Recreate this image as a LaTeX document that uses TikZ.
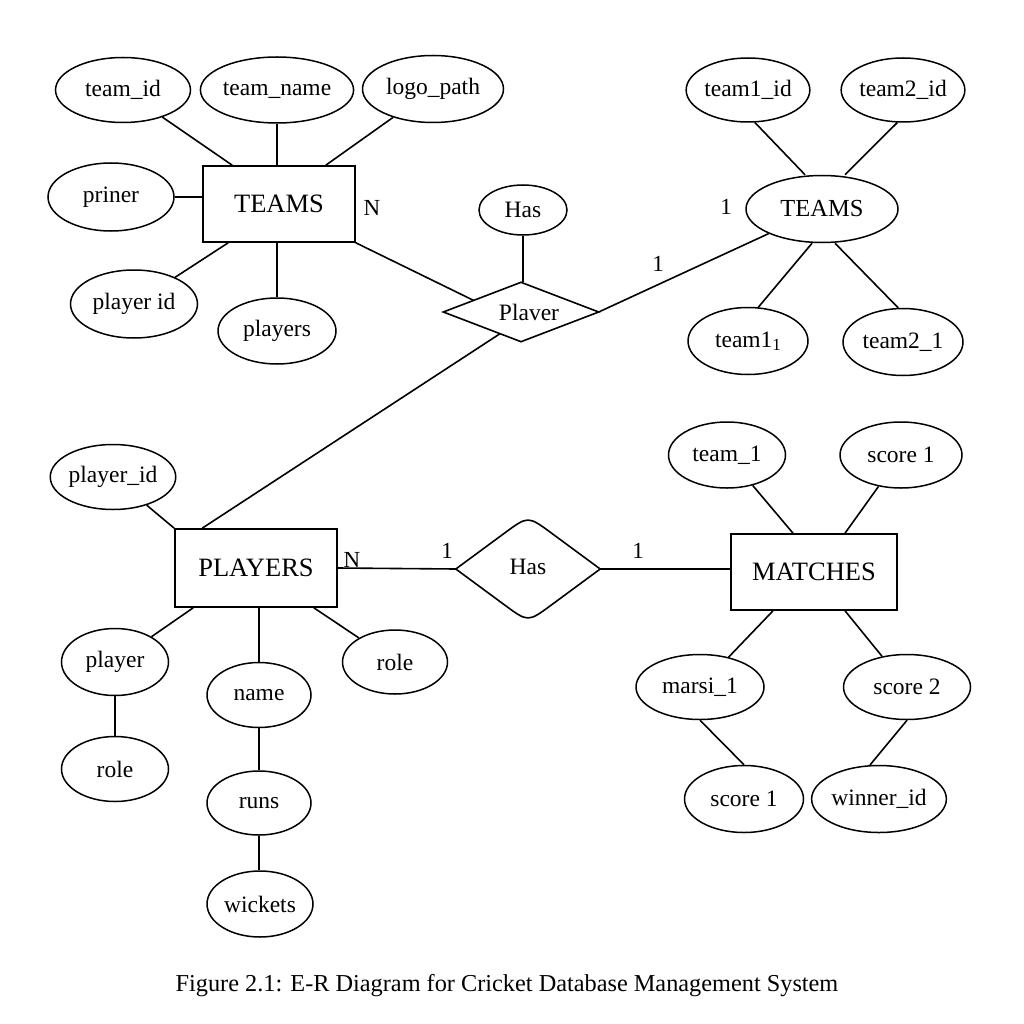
\documentclass[tikz,border=0pt]{standalone}
\usepackage{fontspec}
\setmainfont{Liberation Serif}
\usetikzlibrary{shapes.geometric,calc}
\tikzset{
  attr/.style={ellipse, draw, line width=1.5pt, inner sep=0pt, font=\fontsize{23.5}{28}\selectfont},
  ent/.style={rectangle, draw, line width=1.6pt, inner sep=0pt, font=\fontsize{26.5}{31}\selectfont},
  card/.style={inner sep=0pt, font=\fontsize{23}{27}\selectfont},
  conn/.style={line width=1.6pt}
}
\begin{document}
\begin{tikzpicture}[x=1pt,y=-1pt]
\useasboundingbox (0,0) rectangle (1024,1024);
\fill[white] (0,0) rectangle (1024,1024);
% ---- top-left TEAMS entity
\node[ent, minimum width=152pt, minimum height=76pt] (teamsA) at (279,204) {TEAMS};
\node[attr, minimum width=135pt, minimum height=65pt] (tid) at (123,90) {team\_id};
\node[attr, minimum width=142pt, minimum height=66pt] (tname) at (277,90) {team\_name};
\node[attr, minimum width=141pt, minimum height=67pt] (logo) at (433,89) {logo\_path};
\node[attr, minimum width=126pt, minimum height=68pt] (priner) at (111,197) {priner};
\node[attr, minimum width=127pt, minimum height=68pt] (pid1) at (134,304) {player id};
\node[attr, minimum width=118pt, minimum height=66pt] (players) at (277,331) {players};
\draw[conn] (tid) -- ([xshift=30pt]teamsA.north west);
\draw[conn] (tname.south) -- (tname.south |- teamsA.north);
\draw[conn] (logo) -- ([xshift=-30pt]teamsA.north east);
\draw[conn] (priner) -- (priner -| teamsA.west);
\draw[conn] (pid1) -- ([xshift=26pt]teamsA.south west);
\draw[conn] (players.north) -- (players.north |- teamsA.south);
% ---- Plaver relationship (diamond outline drawn through the node's side anchors)
\node[rectangle, draw=none, inner sep=0pt, minimum width=155pt, minimum height=59pt,
      font=\fontsize{23.5}{28}\selectfont] (plaver) at (521,312) {\hspace*{16pt}Plaver};
\draw[conn, line join=miter]
  (plaver.west) -- (plaver.north) -- (plaver.east) -- (plaver.south) -- cycle;
\node[attr, minimum width=88pt, minimum height=50pt] (hasA) at (523,210) {Has};
\draw[conn] (hasA.south) -- (hasA.south |- plaver.north);
\draw[conn] (teamsA.south east) -- ($(plaver.west)!0.39!(plaver.north)$);
\node[card] (nA) at (372,208) {N};
% ---- right TEAMS ellipse
\node[attr, minimum width=152pt, minimum height=67pt, font=\fontsize{24.5}{29}\selectfont] (teamsB) at (822,209) {TEAMS};
\node[attr, minimum width=120pt, minimum height=64pt] (t1id) at (748,90) {team1\_id};
\node[attr, minimum width=120pt, minimum height=64pt] (t2id) at (903,90) {team2\_id};
\node[attr, minimum width=120pt, minimum height=67pt] (t11) at (748,341) {team1{\fontsize{17}{17}\selectfont\raisebox{-3pt}{1}}};
\node[attr, minimum width=120pt, minimum height=67pt] (t21) at (903,342) {team2\_1};
\draw[conn] (plaver.east) -- (teamsB);
\draw[conn] (t1id.-78) -- ([xshift=-17pt]teamsB.north);
\draw[conn] (t2id.-100) -- ([xshift=23pt]teamsB.north);
\draw[conn] ([xshift=-10pt]teamsB.south) -- (t11.73);
\draw[conn] ([xshift=13pt]teamsB.south) -- (t21.98);
\node[card] (c1a) at (658,264) {1};
\node[card] (c1b) at (726,207) {1};
% ---- PLAYERS entity
\node[ent, minimum width=162pt, minimum height=78pt] (playersE) at (256,568) {PLAYERS};
\node[attr, minimum width=116pt, minimum height=65pt] (pid2) at (113,477) {player\_id};
\draw[conn] (pid2) -- (playersE.north west);
\draw[conn] ($(plaver.west)!0.73!(plaver.south)$) -- ([xshift=28pt]playersE.north west);
\node[attr, minimum width=107pt, minimum height=67pt] (plr) at (115,662) {player};
\node[attr, minimum width=107pt, minimum height=65pt] (roleL) at (115,769) {role};
\node[attr, minimum width=104pt, minimum height=65pt] (nameA) at (259,695) {name};
\node[attr, minimum width=105pt, minimum height=64pt] (roleR) at (395,662) {role};
\node[attr, minimum width=104pt, minimum height=64pt] (runs) at (259,803) {runs};
\node[attr, minimum width=106pt, minimum height=66pt] (wick) at (260,904) {wickets};
\draw[conn] (plr) -- ([xshift=19pt]playersE.south west);
\draw[conn] (plr) -- (roleL);
\draw[conn] (nameA.north) -- (nameA.north |- playersE.south);
\draw[conn] (roleR) -- ([xshift=-24pt]playersE.south east);
\draw[conn] (nameA) -- (runs);
\draw[conn] (runs.south) -- (runs.south |- wick.north);
% ---- Has relationship (rounded diamond)
\node[diamond, draw=none, inner sep=0pt, minimum width=144pt, minimum height=106pt,
      font=\fontsize{23.5}{28}\selectfont] (has2) at (528,569) {\raisebox{5pt}{Has}};
\draw[conn, line join=round]
  (has2.west) -- ($(has2.west)!0.68!(has2.north)$)
  .. controls (has2.north) .. ($(has2.north)!0.32!(has2.east)$)
  -- (has2.east) -- ($(has2.east)!0.68!(has2.south)$)
  .. controls (has2.south) .. ($(has2.south)!0.32!(has2.west)$) -- cycle;
% ---- MATCHES entity
\node[ent, minimum width=166pt, minimum height=76pt] (matches) at (814,572) {MATCHES};
\node[attr, minimum width=117pt, minimum height=66pt] (tm1) at (727,455) {team\_1};
\node[attr, minimum width=122pt, minimum height=66pt] (sc1a) at (901,455) {score 1};
\node[attr, minimum width=128pt, minimum height=65pt] (marsi) at (700,687) {marsi\_1};
\node[attr, minimum width=127pt, minimum height=65pt] (sc2) at (907,687) {score 2};
\node[attr, minimum width=119pt, minimum height=67pt] (sc1b) at (744,799) {score 1};
\node[attr, minimum width=117pt, minimum height=67pt] (win) at (879,799) {winner\_id};
\draw[conn] (playersE.east) -- (has2.west);
\draw[conn] (has2.east) -- (has2.east -| matches.west);
\draw[conn] (tm1) -- ([xshift=-21pt]matches.north);
\draw[conn] (sc1a) -- ([xshift=31pt]matches.north);
\draw[conn] (marsi) -- ([xshift=-41pt]matches.south);
\draw[conn] (sc2) -- ([xshift=31pt]matches.south);
\draw[conn] (marsi.south) -- (sc1b.north);
\draw[conn] (sc2.south) -- (win.105);
\node[card] (nB) at (352,560) {N};
\node[card] (c1c) at (447,551) {1};
\node[card] (c1d) at (638,551) {1};
% ---- caption
\node[inner sep=0pt, font=\fontsize{24.3}{29}\selectfont] (cap) at (507,986)
  {Figure 2.1: E-R Diagram for Cricket Database Management System};
\end{tikzpicture}
\end{document}
